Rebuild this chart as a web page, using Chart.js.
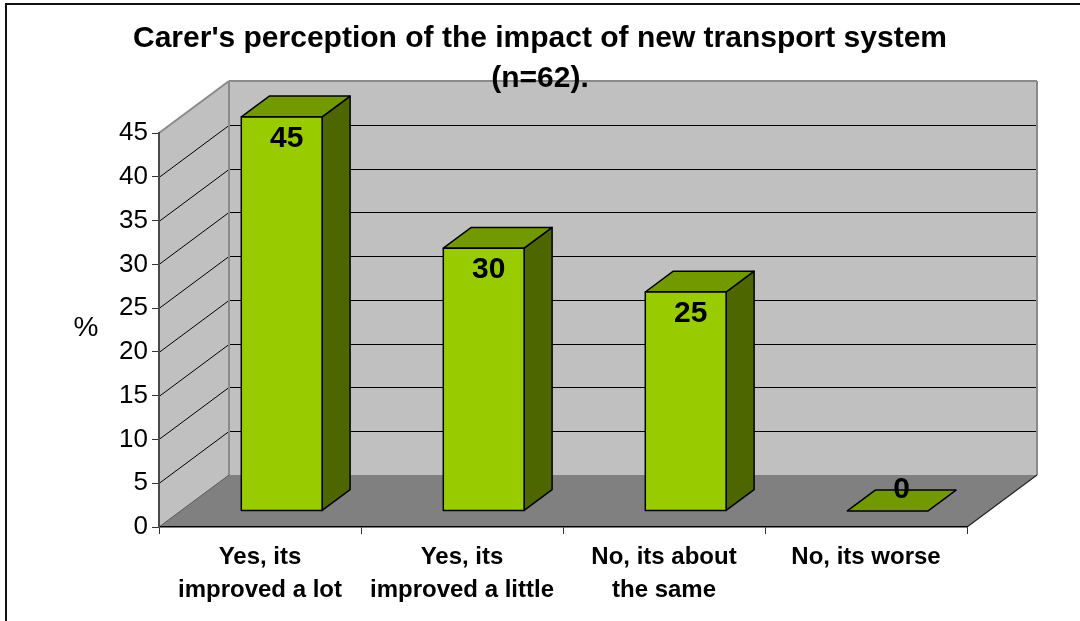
<!DOCTYPE html>
<html>
<head>
<meta charset="utf-8">
<title>Carer's perception of the impact of new transport system</title>
<script src="https://cdn.jsdelivr.net/npm/chart.js@4.4.1/dist/chart.umd.min.js"></script>
<style>
    html, body { margin: 0; padding: 0; background: #ffffff; }
    #wrap { width: 1080px; height: 621px; position: relative; }
</style>
</head>
<body>
<div id="wrap"><canvas id="chart" width="1080" height="621"></canvas></div>
<script>
(function (window, document) {
    'use strict';

    var categories = [
        ['Yes, its', 'improved a lot'],
        ['Yes, its', 'improved a little'],
        ['No, its about', 'the same'],
        'No, its worse'
    ];
    var percentages = [45, 30, 25, 0];
    var yTickValues = [0, 5, 10, 15, 20, 25, 30, 35, 40, 45];
    var titleLines = ["Carer's perception of the impact of new transport system", '(n=62).'];
    var yAxisTitle = '%';

    var FONT = "'Liberation Sans', Arial, sans-serif";

    // oblique depth of the 3D box and where the bars sit inside it
    var DEPTH_X = 70;
    var DEPTH_Y = -52;
    var BAR_FRONT = 0.31;
    var BAR_BACK = 0.71;

    var colors = {
        wall: '#c0c0c0',
        wallEdge: '#8a8a8a',
        floor: '#808080',
        grid: '#000000',
        barFront: '#99cc00',
        barTop: '#739900',
        barSide: '#4d6600',
        outline: '#000000'
    };

    function polygon(ctx, points, fill, stroke, lineWidth) {
        ctx.beginPath();
        ctx.moveTo(points[0][0], points[0][1]);
        for (var i = 1; i < points.length; i++) {
            ctx.lineTo(points[i][0], points[i][1]);
        }
        ctx.closePath();
        if (fill) {
            ctx.fillStyle = fill;
            ctx.fill();
        }
        if (stroke) {
            ctx.strokeStyle = stroke;
            ctx.lineWidth = lineWidth || 1;
            ctx.stroke();
        }
    }

    function line(ctx, x1, y1, x2, y2, color, width) {
        ctx.beginPath();
        ctx.moveTo(x1, y1);
        ctx.lineTo(x2, y2);
        ctx.strokeStyle = color;
        ctx.lineWidth = width || 1;
        ctx.stroke();
    }

    var boxPlugin = {
        id: 'box3d',
        beforeDraw: function (chart) {
            var ctx = chart.ctx;
            var area = chart.chartArea;
            var y = chart.scales.y;
            var x0 = area.left;
            var x1 = area.right;
            var yTop = y.getPixelForValue(y.max);
            var yBot = y.getPixelForValue(y.min);

            ctx.save();

            // outer frame (cut off on the right and bottom in the original)
            ctx.strokeStyle = '#111111';
            ctx.lineWidth = 2;
            ctx.strokeRect(6, 4, 1200, 800);

            // back wall
            polygon(ctx, [
                [x0 + DEPTH_X, yTop + DEPTH_Y],
                [x1 + DEPTH_X, yTop + DEPTH_Y],
                [x1 + DEPTH_X, yBot + DEPTH_Y],
                [x0 + DEPTH_X, yBot + DEPTH_Y]
            ], colors.wall);

            // side wall
            polygon(ctx, [
                [x0, yBot],
                [x0, yTop],
                [x0 + DEPTH_X, yTop + DEPTH_Y],
                [x0 + DEPTH_X, yBot + DEPTH_Y]
            ], colors.wall);

            // floor
            polygon(ctx, [
                [x0, yBot],
                [x1, yBot],
                [x1 + DEPTH_X, yBot + DEPTH_Y],
                [x0 + DEPTH_X, yBot + DEPTH_Y]
            ], colors.floor);

            // gridlines across side wall and back wall
            y.ticks.forEach(function (tick) {
                if (tick.value <= y.min || tick.value >= y.max) {
                    return;
                }
                var py = Math.round(y.getPixelForValue(tick.value)) + 0.5;
                line(ctx, x0, py, x0 + DEPTH_X, py + DEPTH_Y, colors.grid, 1);
                line(ctx, x0 + DEPTH_X, py + DEPTH_Y, x1 + DEPTH_X, py + DEPTH_Y, colors.grid, 1);
            });

            // wall edges
            line(ctx, x0, yTop, x0 + DEPTH_X, yTop + DEPTH_Y, colors.wallEdge, 2);
            line(ctx, x0 + DEPTH_X, yTop + DEPTH_Y, x1 + DEPTH_X, yTop + DEPTH_Y, colors.wallEdge, 2);
            line(ctx, x1 + DEPTH_X, yTop + DEPTH_Y, x1 + DEPTH_X, yBot + DEPTH_Y, colors.wallEdge, 2);
            line(ctx, x0 + DEPTH_X, yTop + DEPTH_Y, x0 + DEPTH_X, yBot + DEPTH_Y, colors.wallEdge, 2);
            line(ctx, x0, yBot, x0 + DEPTH_X, yBot + DEPTH_Y, '#555555', 1);
            line(ctx, x1, yBot, x1 + DEPTH_X, yBot + DEPTH_Y, '#222222', 1.2);

            ctx.restore();
        },
        afterDatasetsDraw: function (chart) {
            var ctx = chart.ctx;
            var meta = chart.getDatasetMeta(0);
            var values = chart.data.datasets[0].data;
            var fx = DEPTH_X * BAR_FRONT;
            var fy = DEPTH_Y * BAR_FRONT;
            var bx = DEPTH_X * BAR_BACK;
            var by = DEPTH_Y * BAR_BACK;

            ctx.save();
            ctx.lineJoin = 'round';

            meta.data.forEach(function (bar, index) {
                var p = bar.getProps(['x', 'y', 'base', 'width'], true);
                var left = p.x - p.width / 2;
                var right = p.x + p.width / 2;
                var top = Math.min(p.y, p.base);
                var base = Math.max(p.y, p.base);

                if (base - top > 0.5) {
                    polygon(ctx, [
                        [right + fx, top + fy],
                        [right + bx, top + by],
                        [right + bx, base + by],
                        [right + fx, base + fy]
                    ], colors.barSide, colors.outline, 1.5);
                }

                polygon(ctx, [
                    [left + fx, top + fy],
                    [right + fx, top + fy],
                    [right + bx, top + by],
                    [left + bx, top + by]
                ], colors.barTop, colors.outline, 1.5);

                if (base - top > 0.5) {
                    polygon(ctx, [
                        [left + fx, top + fy],
                        [right + fx, top + fy],
                        [right + fx, base + fy],
                        [left + fx, base + fy]
                    ], colors.barFront, colors.outline, 1.5);
                }

                // data label
                ctx.font = 'bold 30px ' + FONT;
                ctx.fillStyle = '#000000';
                ctx.textAlign = 'center';
                ctx.textBaseline = 'middle';
                var value = values[index];
                if (base - top > 0.5) {
                    ctx.fillText(String(value), p.x + fx + 5, top + fy + 22);
                } else {
                    var mid = (BAR_FRONT + BAR_BACK) / 2;
                    ctx.fillText(String(value), p.x + DEPTH_X * mid, top + DEPTH_Y * mid - 11);
                }
            });

            ctx.restore();
        },
        afterDraw: function (chart) {
            var ctx = chart.ctx;
            var y = chart.scales.y;
            ctx.save();
            ctx.font = '28px ' + FONT;
            ctx.fillStyle = '#000000';
            ctx.textAlign = 'center';
            ctx.textBaseline = 'middle';
            ctx.fillText(yAxisTitle, 86, (y.top + y.bottom) / 2 - 2);
            ctx.restore();
        }
    };

    var canvas = document.getElementById('chart');

    new Chart(canvas, {
        type: 'bar',
        data: {
            labels: categories,
            datasets: [{
                label: '%',
                data: percentages,
                backgroundColor: 'rgba(0,0,0,0)',
                borderWidth: 0,
                categoryPercentage: 1,
                barPercentage: 0.4
            }]
        },
        options: {
            responsive: false,
            animation: false,
            layout: { padding: 0 },
            plugins: {
                legend: { display: false },
                tooltip: { enabled: false },
                title: {
                    display: true,
                    text: titleLines,
                    color: '#000000',
                    font: { family: FONT, size: 30, weight: 'bold', lineHeight: '40px' },
                    padding: { top: 19, bottom: 34 }
                }
            },
            scales: {
                x: {
                    offset: true,
                    grid: {
                        offset: true,
                        drawOnChartArea: false,
                        drawTicks: true,
                        tickLength: 7,
                        color: '#333333'
                    },
                    border: { display: true, color: '#000000', width: 1.5 },
                    ticks: {
                        color: '#000000',
                        padding: 7,
                        maxRotation: 0,
                        autoSkip: false,
                        font: { family: FONT, size: 24, weight: 'bold', lineHeight: '33px' }
                    },
                    afterFit: function (scale) {
                        scale.height = 94;
                    }
                },
                y: {
                    min: 0,
                    max: 45,
                    afterBuildTicks: function (scale) {
                        scale.ticks = yTickValues.map(function (v) {
                            return { value: v };
                        });
                    },
                    grid: {
                        drawOnChartArea: false,
                        drawTicks: true,
                        tickLength: 7,
                        color: '#333333'
                    },
                    border: { display: true, color: '#4a4a4a', width: 2 },
                    ticks: {
                        color: '#000000',
                        padding: 4,
                        font: { family: FONT, size: 26 }
                    },
                    afterFit: function (scale) {
                        scale.width = 159;
                    }
                },
                spacer: {
                    type: 'linear',
                    position: 'right',
                    display: true,
                    grid: { display: false },
                    border: { display: false },
                    ticks: { display: false },
                    afterFit: function (scale) {
                        scale.width = 113;
                    }
                }
            }
        },
        plugins: [boxPlugin]
    });
})(window, document);
</script>
</body>
</html>
